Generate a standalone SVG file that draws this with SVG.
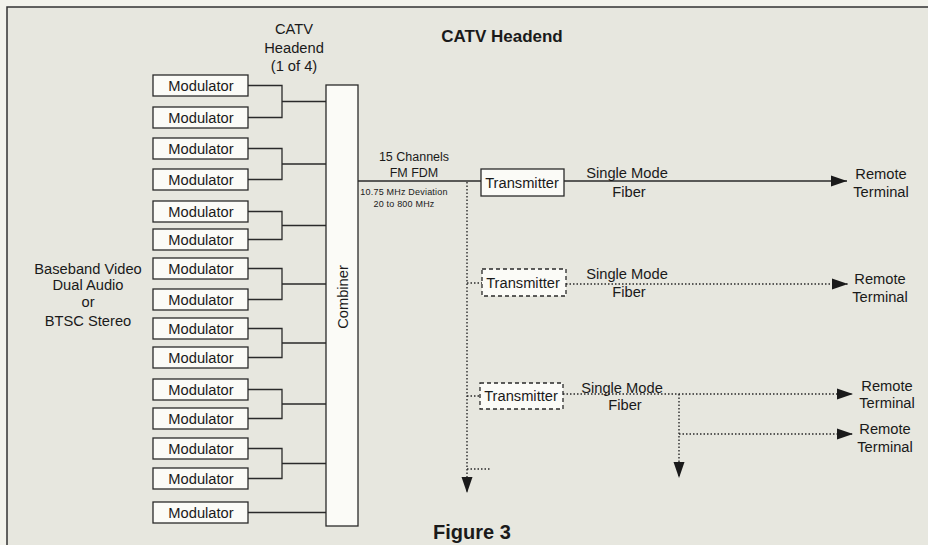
<svg xmlns="http://www.w3.org/2000/svg" width="928" height="545" viewBox="0 0 928 545">
<style>
.t{font-family:"Liberation Sans",Arial,sans-serif;fill:#1a1a1a;text-anchor:middle}
.m{font-size:14.7px}
.s{font-size:9px;letter-spacing:0.2px}
.b{font-weight:bold}
.box{fill:#fbfbf7;stroke:#2a2a2a;stroke-width:1.3}
.dbox{fill:#fbfbf7;stroke:#2a2a2a;stroke-width:1.3;stroke-dasharray:4 3}
.ln{fill:none;stroke:#2a2a2a;stroke-width:1.3}
.dl{fill:none;stroke:#2a2a2a;stroke-width:1.4;stroke-dasharray:1.5 2}
</style>
<defs>
<marker id="ah" markerWidth="17" markerHeight="12" refX="16" refY="6" orient="auto" markerUnits="userSpaceOnUse">
<path d="M0,0.5 L16,6 L0,11.5 Z" fill="#1a1a1a"/>
</marker>
</defs>
<rect x="0" y="0" width="928" height="545" fill="#f3f3ec"/>
<rect x="7" y="7" width="921" height="538" fill="#e7e7df"/>
<path d="M7,545 V7 H928" fill="none" stroke="#333" stroke-width="1.5"/>

<text class="t b" x="502" y="42" font-size="17">CATV Headend</text>
<g id="hdr1">
<text class="t m" x="294" y="34">CATV</text>
<text class="t m" x="294" y="53">Headend</text>
<text class="t m" x="294" y="71">(1 of 4)</text>
</g>
<g id="source">
<text class="t m" x="88" y="274">Baseband Video</text>
<text class="t m" x="88" y="290">Dual Audio</text>
<text class="t m" x="88" y="307">or</text>
<text class="t m" x="88" y="326">BTSC Stereo</text>
</g>

<g id="connectors">
<path class="ln" d="M248,85.5H282V117.5H248M282,101.5H326"/>
<path class="ln" d="M248,148.5H282V179.5H248M282,164H326"/>
<path class="ln" d="M248,211.5H282V239.5H248M282,225.5H326"/>
<path class="ln" d="M248,268.5H282V299.5H248M282,284H326"/>
<path class="ln" d="M248,328.5H282V357.5H248M282,343H326"/>
<path class="ln" d="M248,389.5H282V418.5H248M282,404H326"/>
<path class="ln" d="M248,448.5H282V478.5H248M282,463.5H326"/>
<path class="ln" d="M248,512.5H326"/>
<path class="ln" d="M358,181H481"/>
<path class="ln" d="M564,181H847" marker-end="url(#ah)"/>
<path class="dl" d="M467,182V493" marker-end="url(#ah)"/>
<path class="dl" d="M467,469H490"/>
<path class="dl" d="M467,283H482"/>
<path class="dl" d="M566,284H848" marker-end="url(#ah)"/>
<path class="dl" d="M467,396H480"/>
<path class="dl" d="M563,394H853" marker-end="url(#ah)"/>
<path class="dl" d="M679,394V478" marker-end="url(#ah)"/>
<path class="dl" d="M679,434H853" marker-end="url(#ah)"/>
</g>

<g id="mod1"><rect class="box" x="153" y="75" width="95" height="21"/><text class="t m" x="201" y="91">Modulator</text></g>
<g id="mod2"><rect class="box" x="153" y="107" width="95" height="21"/><text class="t m" x="201" y="123">Modulator</text></g>
<g id="mod3"><rect class="box" x="153" y="138" width="95" height="21"/><text class="t m" x="201" y="154">Modulator</text></g>
<g id="mod4"><rect class="box" x="153" y="169" width="95" height="21"/><text class="t m" x="201" y="185">Modulator</text></g>
<g id="mod5"><rect class="box" x="153" y="201" width="95" height="21"/><text class="t m" x="201" y="217">Modulator</text></g>
<g id="mod6"><rect class="box" x="153" y="229" width="95" height="21"/><text class="t m" x="201" y="245">Modulator</text></g>
<g id="mod7"><rect class="box" x="153" y="258" width="95" height="21"/><text class="t m" x="201" y="274">Modulator</text></g>
<g id="mod8"><rect class="box" x="153" y="289" width="95" height="21"/><text class="t m" x="201" y="305">Modulator</text></g>
<g id="mod9"><rect class="box" x="153" y="318" width="95" height="21"/><text class="t m" x="201" y="334">Modulator</text></g>
<g id="mod10"><rect class="box" x="153" y="347" width="95" height="21"/><text class="t m" x="201" y="363">Modulator</text></g>
<g id="mod11"><rect class="box" x="153" y="379" width="95" height="21"/><text class="t m" x="201" y="395">Modulator</text></g>
<g id="mod12"><rect class="box" x="153" y="408" width="95" height="21"/><text class="t m" x="201" y="424">Modulator</text></g>
<g id="mod13"><rect class="box" x="153" y="438" width="95" height="21"/><text class="t m" x="201" y="454">Modulator</text></g>
<g id="mod14"><rect class="box" x="153" y="468" width="95" height="21"/><text class="t m" x="201" y="484">Modulator</text></g>
<g id="mod15"><rect class="box" x="153" y="502" width="95" height="21"/><text class="t m" x="201" y="518">Modulator</text></g>

<g id="combiner">
<rect class="box" x="326" y="85" width="32" height="441"/>
<text class="t m" transform="translate(347.5,297) rotate(-90)">Combiner</text>
</g>

<g id="fdm">
<text class="t" x="414" y="161" font-size="12.5">15 Channels</text>
<text class="t" x="414" y="177" font-size="12.5">FM FDM</text>
<text class="t s" x="404" y="195">10.75 MHz Deviation</text>
<text class="t s" x="404" y="207">20 to 800 MHz</text>
</g>

<g id="tx1"><rect class="box" x="481" y="169" width="83" height="27"/><text class="t m" x="522" y="188">Transmitter</text></g>
<g id="tx2"><rect class="dbox" x="482" y="269" width="84" height="27"/><text class="t m" x="523" y="288">Transmitter</text></g>
<g id="tx3"><rect class="dbox" x="480" y="383" width="83" height="26"/><text class="t m" x="521" y="401">Transmitter</text></g>

<g id="fiber1"><text class="t m" x="627" y="178">Single Mode</text><text class="t m" x="629" y="197">Fiber</text></g>
<g id="fiber2"><text class="t m" x="627" y="279">Single Mode</text><text class="t m" x="629" y="297">Fiber</text></g>
<g id="fiber3"><text class="t m" x="622" y="393">Single Mode</text><text class="t m" x="625" y="410">Fiber</text></g>

<g id="rt1"><text class="t m" x="881" y="179">Remote</text><text class="t m" x="881" y="197">Terminal</text></g>
<g id="rt2"><text class="t m" x="880" y="284">Remote</text><text class="t m" x="880" y="302">Terminal</text></g>
<g id="rt3"><text class="t m" x="887" y="391">Remote</text><text class="t m" x="887" y="408">Terminal</text></g>
<g id="rt4"><text class="t m" x="885" y="434">Remote</text><text class="t m" x="885" y="452">Terminal</text></g>

<text class="t b" x="472" y="539" font-size="20">Figure 3</text>
</svg>
